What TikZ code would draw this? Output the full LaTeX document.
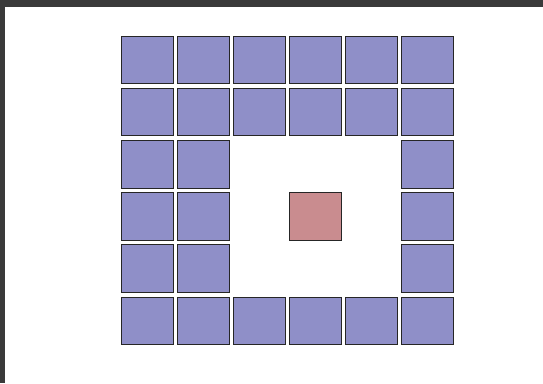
\documentclass[tikz,border=0pt]{standalone}
\definecolor{frame}{HTML}{3A3A3A}
\definecolor{cellblue}{HTML}{8F8FC8}
\definecolor{cellred}{HTML}{C98C8F}
\tikzset{
  px/.style={x=1pt,y=-1pt},
  cell/.style={draw=black!85,line width=0.7pt,fill=cellblue},
  target/.style={draw=black!85,line width=0.7pt,fill=cellred},
}
\begin{document}
\begin{tikzpicture}[px]
\useasboundingbox (0,0) rectangle (543,383);
\fill[frame] (0,0) rectangle (543,383);
\fill[white] (5,6.7) rectangle (543,383);
\foreach \r/\c in {0/0,0/1,0/2,0/3,0/4,0/5,
                   1/0,1/1,1/2,1/3,1/4,1/5,
                   2/0,2/1,2/5,
                   3/0,3/1,3/5,
                   4/0,4/1,4/5,
                   5/0,5/1,5/2,5/3,5/4,5/5}{
  \path[cell] ({121.5+56*\c},{36+52.2*\r}) rectangle ++(51.5,47.5);
}
\path[target] ({121.5+56*3},{36+52.2*3}) rectangle ++(51.5,47.5);
\end{tikzpicture}
\end{document}
